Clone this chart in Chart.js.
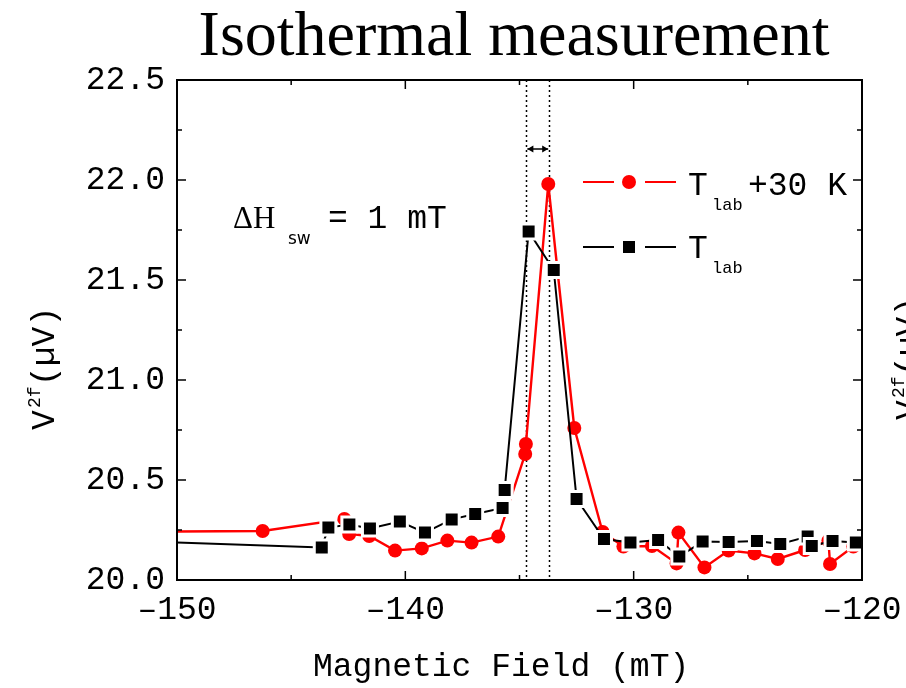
<!DOCTYPE html>
<html>
<head>
<meta charset="utf-8">
<script src="https://cdn.jsdelivr.net/npm/chart.js@4"></script>
<style>
html,body{margin:0;padding:0;background:#fff;}
#c{display:block;}
</style>
</head>
<body>
<canvas id="c" width="906" height="688"></canvas>
<script>
// ---- data ----
const redX = [-155, -146.25, -142.67, -142.46, -141.58, -140.45, -139.28, -138.16, -137.10, -135.93,
  -134.75, -134.72, -133.74, -132.60, -131.36, -130.45, -129.20, -128.12, -128.04, -126.90,
  -125.84, -124.71, -123.69, -122.49, -121.47, -121.40, -120.38, -119.5];
const redY = [20.24, 20.245, 20.305, 20.23, 20.22, 20.147, 20.158, 20.197, 20.187, 20.217,
  20.63, 20.68, 21.98, 20.76, 20.24, 20.167, 20.17, 20.083, 20.237, 20.063,
  20.147, 20.133, 20.105, 20.15, 20.197, 20.08, 20.167, 20.21];
const blackX = [-155, -143.66, -143.37, -142.45, -141.55, -140.24, -139.14, -137.97, -136.94, -135.74,
  -135.65, -134.60, -133.50, -132.50, -131.30, -130.14, -128.93, -128.00, -126.98, -125.84,
  -124.60, -123.58, -122.38, -122.20, -121.29, -120.27, -119.5];
const blackY = [20.206, 20.163, 20.262, 20.278, 20.258, 20.292, 20.237, 20.303, 20.33, 20.36,
  20.45, 21.743, 21.55, 20.405, 20.205, 20.187, 20.20, 20.117, 20.192, 20.19,
  20.195, 20.18, 20.217, 20.17, 20.195, 20.187, 20.19];
const xTicks = [-150, -140, -130, -120];
const yTicks = [20.0, 20.5, 21.0, 21.5, 22.0, 22.5];
const switchLines = [-134.7, -133.7];
const arrowY = 22.155;
const seriesNames = ['T_lab+30 K', 'T_lab'];

const MONO = '"Liberation Mono", "DejaVu Sans Mono", monospace';
const SERIF = '"Liberation Serif", "DejaVu Serif", serif';

function pts(xs, ys){ return xs.map((x,i)=>({x:x, y:ys[i]})); }

function drawVLabel(ctx, x, y){
  ctx.save();
  ctx.translate(x, y);
  ctx.rotate(-Math.PI/2);
  ctx.fillStyle = '#000';
  ctx.textBaseline = 'alphabetic';
  ctx.textAlign = 'left';
  ctx.font = '33px ' + MONO;
  ctx.fillText('V', 0, 0);
  ctx.font = '18px ' + MONO;
  ctx.fillText('2f', 22, -14);
  ctx.font = '33px ' + MONO;
  ctx.fillText('(\u00B5V)', 44, 0);
  ctx.restore();
}

const decor = {
  id: 'decor',
  beforeDatasetsDraw(chart){
    const ctx = chart.ctx, a = chart.chartArea, xs = chart.scales.x, ys = chart.scales.y;
    ctx.save();
    ctx.strokeStyle = '#000';
    ctx.lineWidth = 1.5;
    ctx.setLineDash([2, 3]);
    switchLines.forEach(v=>{
      const px = Math.round(xs.getPixelForValue(v)) + 0.5;
      ctx.beginPath(); ctx.moveTo(px, a.top); ctx.lineTo(px, a.bottom); ctx.stroke();
    });
    ctx.setLineDash([]);
    const x1 = xs.getPixelForValue(switchLines[0]) + 1, x2 = xs.getPixelForValue(switchLines[1]) - 1;
    const py = ys.getPixelForValue(arrowY);
    ctx.lineWidth = 1.5;
    ctx.beginPath(); ctx.moveTo(x1, py); ctx.lineTo(x2, py); ctx.stroke();
    ctx.fillStyle = '#000';
    ctx.beginPath(); ctx.moveTo(x1, py); ctx.lineTo(x1+6, py-3.5); ctx.lineTo(x1+6, py+3.5); ctx.closePath(); ctx.fill();
    ctx.beginPath(); ctx.moveTo(x2, py); ctx.lineTo(x2-6, py-3.5); ctx.lineTo(x2-6, py+3.5); ctx.closePath(); ctx.fill();
    ctx.restore();
  },
  afterDraw(chart){
    const ctx = chart.ctx, a = chart.chartArea, xs = chart.scales.x, ys = chart.scales.y;
    ctx.save();
    ctx.strokeStyle = '#000';
    ctx.lineWidth = 2;
    ctx.strokeRect(a.left, a.top, a.right - a.left, a.bottom - a.top);
    ctx.lineWidth = 1.5;
    for (let v = -150; v <= -120; v += 5){
      const px = xs.getPixelForValue(v);
      const len = (v % 10 === 0) ? 9 : 5;
      ctx.beginPath();
      ctx.moveTo(px, a.bottom); ctx.lineTo(px, a.bottom - len);
      ctx.moveTo(px, a.top); ctx.lineTo(px, a.top + len);
      ctx.stroke();
    }
    for (let k = 0; k <= 10; k++){
      const v = 20 + k*0.25;
      const py = ys.getPixelForValue(v);
      const len = (k % 2 === 0) ? 9 : 5;
      ctx.beginPath();
      ctx.moveTo(a.left, py); ctx.lineTo(a.left + len, py);
      ctx.moveTo(a.right, py); ctx.lineTo(a.right - len, py);
      ctx.stroke();
    }
    ctx.fillStyle = '#000';
    ctx.textAlign = 'center';
    ctx.textBaseline = 'alphabetic';
    ctx.font = '64px ' + SERIF;
    ctx.fillText('Isothermal measurement', 514, 55);
    ctx.font = '33px ' + MONO;
    ctx.textAlign = 'left';
    ctx.fillText('Magnetic Field (mT)', 313, 676);
    drawVLabel(ctx, 54, 430);
    drawVLabel(ctx, 918, 420);
    ctx.textAlign = 'left';
    ctx.font = '31px ' + SERIF;
    ctx.fillText('\u0394H', 233, 228);
    ctx.font = '17px "DejaVu Sans", sans-serif';
    ctx.fillText('sw', 288, 244);
    ctx.font = '33px ' + MONO;
    ctx.fillText('= 1 mT', 328, 228);
    const lg = [
      {y: 182, color: '#ff0000', shape: 'circle', tBase: 195, sub: 210, tail: '+30 K'},
      {y: 247, color: '#000000', shape: 'rect', tBase: 258, sub: 273, tail: ''}
    ];
    lg.forEach(it=>{
      ctx.strokeStyle = it.color; ctx.fillStyle = it.color; ctx.lineWidth = 2;
      ctx.beginPath(); ctx.moveTo(583, it.y); ctx.lineTo(614, it.y); ctx.moveTo(645, it.y); ctx.lineTo(676, it.y); ctx.stroke();
      if (it.shape === 'circle'){ ctx.beginPath(); ctx.arc(629, it.y, 7, 0, Math.PI*2); ctx.fill(); }
      else { ctx.fillRect(623, it.y - 6, 12, 12); }
      ctx.fillStyle = '#000';
      ctx.font = '33px ' + MONO;
      ctx.fillText('T', 688, it.tBase);
      ctx.font = '17px ' + MONO;
      ctx.fillText('lab', 712, it.sub);
      if (it.tail){ ctx.font = '33px ' + MONO; ctx.fillText(it.tail, 748, it.tBase); }
    });
    ctx.restore();
  }
};

new Chart(document.getElementById('c'), {
  type: 'scatter',
  data: {
    datasets: [
      {
        label: seriesNames[1],
        data: pts(blackX, blackY),
        showLine: true,
        borderColor: '#000000',
        borderWidth: 2,
        backgroundColor: '#000000',
        pointStyle: 'rect',
        pointRadius: 10.6,
        pointBackgroundColor: '#000000',
        pointBorderColor: '#ffffff',
        pointBorderWidth: 3,
        clip: 0,
        order: 0
      },
      {
        label: seriesNames[0],
        data: pts(redX, redY),
        showLine: true,
        borderColor: '#ff0000',
        borderWidth: 2.4,
        backgroundColor: '#ff0000',
        pointStyle: 'circle',
        pointRadius: 7,
        pointBackgroundColor: '#ff0000',
        pointBorderWidth: 0,
        clip: 0,
        order: 1
      }
    ]
  },
  options: {
    responsive: false,
    devicePixelRatio: 1,
    animation: false,
    layout: { padding: { top: 80, right: 44, left: 0, bottom: 0 } },
    plugins: { legend: { display: false }, tooltip: { enabled: false } },
    scales: {
      x: {
        type: 'linear', min: -150, max: -120,
        afterBuildTicks(s){ s.ticks = xTicks.map(v=>({value:v})); },
        afterFit(s){ s.height = 108; s.paddingLeft = 0; s.paddingRight = 0; },
        grid: { display: false, drawTicks: false },
        border: { display: false },
        ticks: {
          color: '#000', padding: 10,
          font: { family: MONO, size: 33 },
          callback: v => (v < 0 ? '\u2013' + Math.abs(v) : String(v))
        }
      },
      y: {
        type: 'linear', min: 20, max: 22.5,
        afterBuildTicks(s){ s.ticks = yTicks.map(v=>({value:v})); },
        afterFit(s){ s.width = 177; s.paddingTop = 0; s.paddingBottom = 0; },
        grid: { display: false, drawTicks: false },
        border: { display: false },
        ticks: {
          color: '#000', padding: 12,
          font: { family: MONO, size: 33 },
          callback: v => Number(v).toFixed(1)
        }
      }
    }
  },
  plugins: [decor]
});
</script>
</body>
</html>
